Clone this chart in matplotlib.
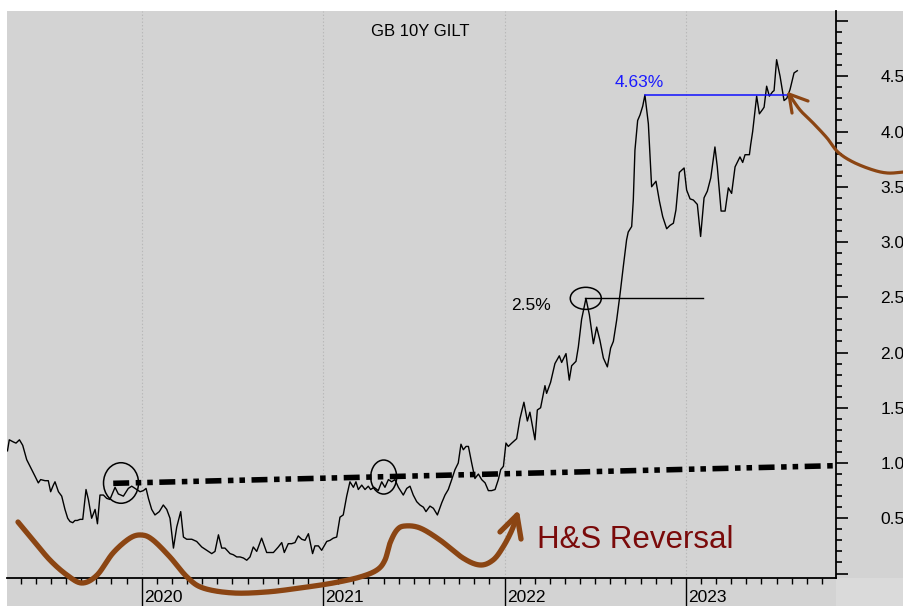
import numpy as np
import matplotlib
matplotlib.use("Agg")
import matplotlib.pyplot as plt
from matplotlib.patches import Ellipse, Rectangle
from matplotlib.transforms import ScaledTranslation
from matplotlib.ticker import FixedLocator, NullFormatter, FixedFormatter

plt.rcParams['font.family'] = ['Liberation Sans', 'DejaVu Sans']
plt.rcParams['lines.scale_dashes'] = False

# ---------------- data (decimal year, yield %) ----------------
dates = [
    2019.260, 2019.270, 2019.293, 2019.307, 2019.326, 2019.344, 2019.366, 2019.394, 2019.412, 2019.430,
    2019.443, 2019.467, 2019.485, 2019.498, 2019.513, 2019.522, 2019.541, 2019.559, 2019.577, 2019.592,
    2019.605, 2019.620, 2019.632, 2019.645, 2019.660, 2019.675, 2019.693, 2019.706, 2019.724, 2019.743,
    2019.756, 2019.770, 2019.789, 2019.807, 2019.825, 2019.853, 2019.871, 2019.899, 2019.926, 2019.945,
    2019.972, 2019.991, 2020.009, 2020.024, 2020.037, 2020.055, 2020.073, 2020.097, 2020.119, 2020.138,
    2020.156, 2020.175, 2020.193, 2020.215, 2020.230, 2020.248, 2020.276, 2020.303, 2020.331, 2020.358,
    2020.386, 2020.404, 2020.423, 2020.441, 2020.459, 2020.487, 2020.505, 2020.524, 2020.542, 2020.561,
    2020.579, 2020.597, 2020.615, 2020.634, 2020.661, 2020.689, 2020.726, 2020.753, 2020.772, 2020.786,
    2020.808, 2020.827, 2020.845, 2020.863, 2020.882, 2020.900, 2020.919, 2020.942, 2020.955, 2020.974,
    2020.992, 2021.020, 2021.038, 2021.056, 2021.075, 2021.093, 2021.111, 2021.130, 2021.148, 2021.167,
    2021.181, 2021.194, 2021.213, 2021.231, 2021.249, 2021.262, 2021.281, 2021.304, 2021.323, 2021.341,
    2021.360, 2021.378, 2021.396, 2021.415, 2021.442, 2021.461, 2021.479, 2021.497, 2021.516, 2021.534,
    2021.553, 2021.567, 2021.589, 2021.608, 2021.630, 2021.654, 2021.672, 2021.690, 2021.709, 2021.727,
    2021.745, 2021.760, 2021.773, 2021.788, 2021.801, 2021.819, 2021.837, 2021.856, 2021.874, 2021.893,
    2021.911, 2021.929, 2021.948, 2021.966, 2021.979, 2021.994, 2022.008, 2022.021, 2022.040, 2022.067,
    2022.085, 2022.107, 2022.126, 2022.140, 2022.168, 2022.181, 2022.199, 2022.223, 2022.232, 2022.254,
    2022.278, 2022.302, 2022.315, 2022.339, 2022.357, 2022.370, 2022.394, 2022.407, 2022.425, 2022.449,
    2022.468, 2022.490, 2022.508, 2022.526, 2022.545, 2022.567, 2022.585, 2022.600, 2022.618, 2022.637,
    2022.655, 2022.673, 2022.682, 2022.701, 2022.710, 2022.719, 2022.734, 2022.747, 2022.762, 2022.774,
    2022.793, 2022.811, 2022.835, 2022.854, 2022.872, 2022.894, 2022.912, 2022.931, 2022.945, 2022.964,
    2022.990, 2023.004, 2023.023, 2023.041, 2023.063, 2023.081, 2023.100, 2023.118, 2023.137, 2023.160,
    2023.173, 2023.194, 2023.216, 2023.234, 2023.252, 2023.271, 2023.298, 2023.313, 2023.326, 2023.350,
    2023.357, 2023.368, 2023.390, 2023.405, 2023.423, 2023.431, 2023.445, 2023.460, 2023.478, 2023.486,
    2023.500, 2023.519, 2023.541, 2023.556, 2023.574, 2023.583, 2023.596, 2023.614,
]
yields = [
    1.11, 1.21, 1.19, 1.18, 1.21, 1.16, 1.03, 0.94, 0.88, 0.82,
    0.85, 0.84, 0.84, 0.74, 0.80, 0.83, 0.74, 0.70, 0.58, 0.50,
    0.47, 0.46, 0.48, 0.48, 0.49, 0.49, 0.76, 0.67, 0.50, 0.58,
    0.45, 0.71, 0.71, 0.68, 0.67, 0.78, 0.72, 0.70, 0.77, 0.79,
    0.76, 0.74, 0.75, 0.77, 0.68, 0.58, 0.53, 0.56, 0.62, 0.58,
    0.50, 0.23, 0.42, 0.56, 0.33, 0.31, 0.31, 0.29, 0.24, 0.21,
    0.18, 0.20, 0.35, 0.23, 0.23, 0.18, 0.17, 0.15, 0.15, 0.14,
    0.12, 0.15, 0.24, 0.20, 0.32, 0.19, 0.19, 0.24, 0.28, 0.19,
    0.27, 0.27, 0.28, 0.34, 0.31, 0.30, 0.36, 0.18, 0.25, 0.25,
    0.21, 0.29, 0.30, 0.32, 0.33, 0.51, 0.53, 0.70, 0.83, 0.78,
    0.83, 0.76, 0.80, 0.76, 0.79, 0.76, 0.78, 0.75, 0.83, 0.78,
    0.85, 0.83, 0.85, 0.78, 0.71, 0.77, 0.79, 0.71, 0.65, 0.62,
    0.60, 0.56, 0.61, 0.59, 0.53, 0.64, 0.71, 0.76, 0.85, 0.94,
    1.00, 1.17, 1.12, 1.15, 1.15, 1.00, 0.86, 0.90, 0.85, 0.82,
    0.75, 0.75, 0.76, 0.85, 0.94, 0.97, 1.18, 1.15, 1.18, 1.22,
    1.40, 1.55, 1.38, 1.46, 1.21, 1.48, 1.50, 1.70, 1.63, 1.73,
    1.90, 1.97, 1.91, 1.99, 1.75, 1.88, 1.92, 2.05, 2.30, 2.49,
    2.34, 2.08, 2.23, 2.11, 1.95, 1.87, 2.04, 2.10, 2.29, 2.53,
    2.78, 3.02, 3.09, 3.14, 3.38, 3.83, 4.10, 4.15, 4.23, 4.33,
    4.07, 3.50, 3.55, 3.37, 3.23, 3.12, 3.15, 3.17, 3.29, 3.63,
    3.67, 3.47, 3.39, 3.38, 3.34, 3.05, 3.40, 3.46, 3.58, 3.86,
    3.68, 3.28, 3.28, 3.49, 3.44, 3.68, 3.77, 3.72, 3.79, 3.79,
    3.88, 4.00, 4.32, 4.16, 4.20, 4.22, 4.41, 4.32, 4.36, 4.37,
    4.65, 4.50, 4.28, 4.30, 4.38, 4.44, 4.53, 4.55,
]

year_ticks = [2020, 2021, 2022, 2023]
year_labels = ["2020", "2021", "2022", "2023"]
ytick_values = [0.5, 1.0, 1.5, 2.0, 2.5, 3.0, 3.5, 4.0, 4.5]
ytick_labels = ["0.5", "1.0", "1.5", "2.0", "2.5", "3.0", "3.5", "4.0", "4.5"]

title_text = "GB 10Y GILT"
peak_label = "4.63%"
mid_label = "2.5%"
pattern_label = "H&S Reversal"

# annotation geometry (year, yield)
neckline_start = (2019.843, 0.816)
neckline_end = (2023.83, 0.976)
peak_line = ([2022.774, 2023.562], [4.33, 4.33])
mid_line = ([2022.444, 2023.094], [2.49, 2.49])
ellipses = [  # center, width(yr), height(%)
    ((2019.886, 0.819), 0.193, 0.367),
    ((2021.334, 0.873), 0.143, 0.308),
    ((2022.448, 2.49), 0.171, 0.20),
]
curve_a = [
    (2019.318, 0.466), (2019.401, 0.303), (2019.494, 0.122), (2019.588, -0.014), (2019.671, -0.086),
    (2019.754, -0.014), (2019.842, 0.186), (2019.936, 0.321), (2020.002, 0.348), (2020.062, 0.303),
    (2020.156, 0.149), (2020.250, -0.032), (2020.338, -0.131), (2020.503, -0.176), (2020.691, -0.167),
    (2020.873, -0.131), (2021.055, -0.086), (2021.203, -0.032), (2021.297, 0.032), (2021.341, 0.122),
    (2021.369, 0.276), (2021.407, 0.394), (2021.451, 0.430), (2021.534, 0.412), (2021.644, 0.303),
    (2021.771, 0.140), (2021.865, 0.077), (2021.937, 0.122), (2021.992, 0.240), (2022.041, 0.394),
    (2022.069, 0.529),
]
curve_a_head = [(2021.975, 0.376), (2022.069, 0.529), (2022.091, 0.312)]
curve_b = [
    (2024.197, 3.633), (2024.114, 3.624), (2024.031, 3.652), (2023.921, 3.724), (2023.838, 3.814),
    (2023.778, 3.941), (2023.701, 4.077), (2023.629, 4.195), (2023.568, 4.339),
]
curve_b_head = [(2023.673, 4.276), (2023.568, 4.339), (2023.585, 4.167)]


def smooth(pts, n=24):
    P = np.array(pts, dtype=float)
    P = np.vstack([P[0], P, P[-1]])
    out = []
    t = np.linspace(0, 1, n, endpoint=False)[:, None]
    for i in range(1, len(P) - 2):
        p0, p1, p2, p3 = P[i - 1], P[i], P[i + 1], P[i + 2]
        out.append(0.5 * (2 * p1 + (-p0 + p2) * t + (2 * p0 - 5 * p1 + 4 * p2 - p3) * t ** 2
                          + (-p0 + 3 * p1 - 3 * p2 + p3) * t ** 3))
    out.append(P[-2][None])
    return np.vstack(out)


# ---------------- figure ----------------
W, H = 904, 606
fig = plt.figure(figsize=(W / 100, H / 100), dpi=100, facecolor="white")
GRAY = "#d3d3d3"
fig.patches.append(Rectangle((7 / W, 0), 1 - 7 / W, (H - 11) / H, transform=fig.transFigure,
                             facecolor=GRAY, edgecolor="none", zorder=-10))
fig.patches.append(Rectangle((836 / W, 0), 1 - 836 / W, 28 / H, transform=fig.transFigure,
                             facecolor="#dadada", edgecolor="none", zorder=-9))

ax = fig.add_axes([7 / W, 28 / H, (836 - 7) / W, (578 - 11) / H])
ax.set_facecolor(GRAY)
ax.set_xlim(2019.2574, 2023.8274)
ax.set_ylim(-0.0407, 5.0905)

for s in ("left", "top"):
    ax.spines[s].set_visible(False)
for s in ("right", "bottom"):
    ax.spines[s].set_linewidth(1.3)
    ax.spines[s].set_color("black")

# vertical dotted grid at years
for yr in year_ticks:
    ax.axvline(yr, color="#b8b8b8", lw=0.8, ls=(0, (1, 1.5)), zorder=0)

# x axis ticks
ax.xaxis.set_major_locator(FixedLocator(year_ticks))
ax.xaxis.set_major_formatter(FixedFormatter(year_labels))
months = [2019 + k / 12 for k in range(4, 58)]
ax.xaxis.set_minor_locator(FixedLocator(months))
ax.xaxis.set_minor_formatter(NullFormatter())
ax.tick_params(axis="x", which="major", direction="out", length=20.5, width=1.0, pad=-11.5,
               labelsize=12.5, colors="black")
ax.tick_params(axis="x", which="minor", direction="out", length=4.2, width=1.0)
for lab in ax.get_xticklabels():
    lab.set_horizontalalignment("left")
    lab.set_transform(lab.get_transform() + ScaledTranslation(2.5 / 100, 0, fig.dpi_scale_trans))

# y axis on right
ax.yaxis.tick_right()
major_y = [0.0, 0.5, 1.0, 1.5, 2.0, 2.5, 3.0, 3.5, 4.0, 4.5, 5.0]
ax.yaxis.set_major_locator(FixedLocator(major_y))
ax.yaxis.set_major_formatter(FixedFormatter([""] + ytick_labels + [""]))
ax.yaxis.set_minor_locator(FixedLocator([k / 10 for k in range(0, 51) if k % 5]))
ax.tick_params(axis="y", which="major", direction="out", length=8.8, width=1.2, pad=23,
               labelsize=12.5)
ax.tick_params(axis="y", which="minor", direction="out", length=4.2, width=1.2)

# main series
ax.plot(dates, yields, color="black", lw=1.0, zorder=3)

# neckline (dash-dot-dot)
nl, = ax.plot([neckline_start[0], neckline_end[0]], [neckline_start[1], neckline_end[1]],
              color="black", lw=4.0, zorder=4, solid_capstyle="butt")
nl.set_dashes([11.5, 4.7, 4.0, 4.3, 4.0, 4.7])
nl.set_dash_capstyle("butt")

# ellipses
for (c, w, h) in ellipses:
    ax.add_patch(Ellipse(c, w, h, fill=False, edgecolor="black", lw=1.1, zorder=5))

# horizontal reference lines
ax.plot(*peak_line, color="#1010ff", lw=1.1, zorder=4)
ax.plot(*mid_line, color="black", lw=1.0, zorder=4)

# texts
ax.text(2021.534, 4.864, title_text, ha="center", va="baseline", fontsize=12, color="black")
ax.text(2022.605, 4.403, peak_label, ha="left", va="baseline", fontsize=12.5, color="#1a1aff")
ax.text(2022.034, 2.385, mid_label, ha="left", va="baseline", fontsize=12.5, color="black")
ax.text(2022.181, 0.233, pattern_label, ha="left", va="baseline", fontsize=22.5, color="#7a0a0a")

# brown freehand curves
BROWN = "#8b4513"
ca = smooth(curve_a)
ax.plot(ca[:, 0], ca[:, 1], color=BROWN, lw=3.8, solid_capstyle="round", clip_on=False, zorder=6)
h = np.array(curve_a_head)
ax.plot(h[:, 0], h[:, 1], color=BROWN, lw=3.8, solid_capstyle="round", solid_joinstyle="round",
        clip_on=False, zorder=6)
cb = smooth(curve_b)
ax.plot(cb[:, 0], cb[:, 1], color=BROWN, lw=2.3, solid_capstyle="round", clip_on=False, zorder=6)
h = np.array(curve_b_head)
ax.plot(h[:, 0], h[:, 1], color=BROWN, lw=2.3, solid_capstyle="round", solid_joinstyle="round",
        clip_on=False, zorder=6)

fig.savefig("out.png", dpi=100, facecolor=fig.get_facecolor())
